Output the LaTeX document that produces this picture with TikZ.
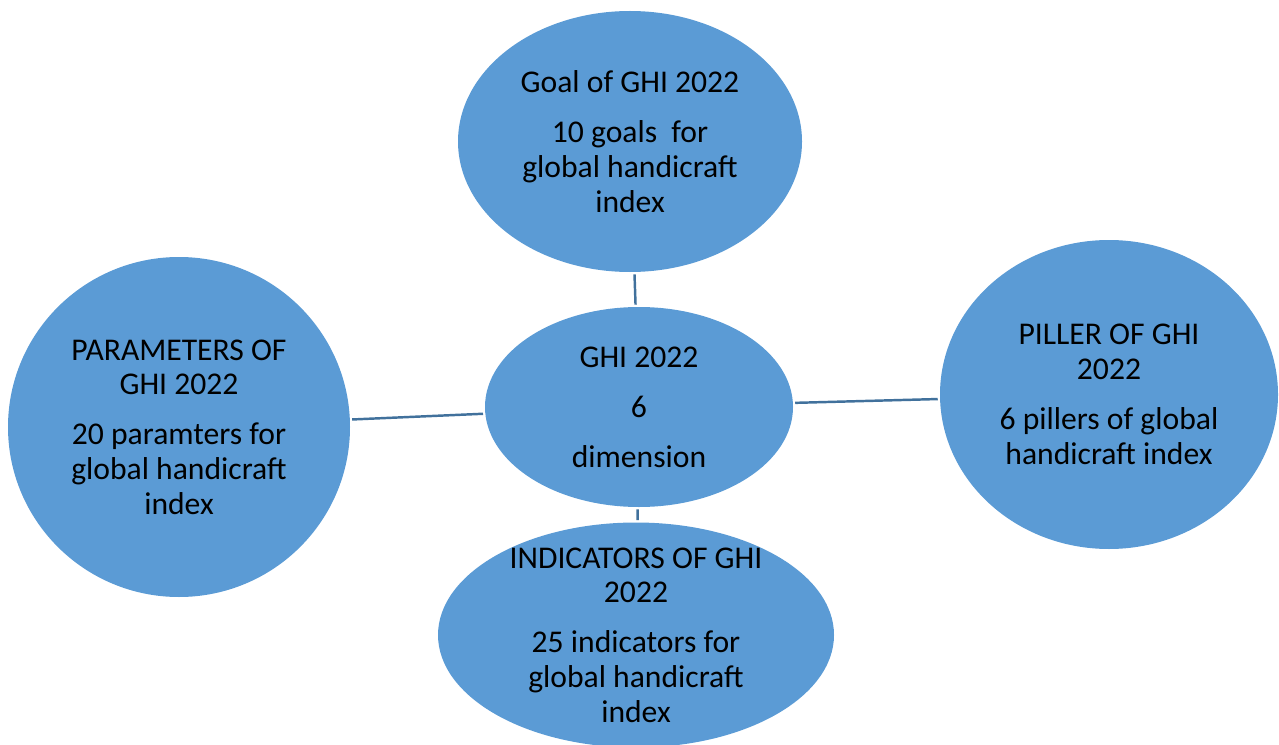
\documentclass[tikz,border=0pt]{standalone}
\usepackage{fontspec}
\setmainfont{Carlito}
\usetikzlibrary{shapes.geometric}

\definecolor{bubblefill}{HTML}{5B9BD5}
\definecolor{linkcol}{HTML}{41719C}

\begin{document}
\begin{tikzpicture}[
    bubble/.style = {ellipse, fill=bubblefill, inner sep=0pt},
    txt/.style = {align=center, inner sep=0pt, font=\fontsize{18}{19.8}\selectfont},
    link/.style = {draw=linkcol, line width=1.4pt, shorten <=0.04cm, shorten >=0.04cm}
]
    % Canvas
    \useasboundingbox (0,0) rectangle (25.58,-14.9);

    % Centre bubble
    \node[bubble, minimum width=6.16cm, minimum height=4cm,
        label={[txt]center:{GHI 2022\\[8.6pt]6\\[8.6pt]dimension}}] (ghi) at (12.78,-8.14) {};

    % Outer bubbles
    \node[bubble, minimum width=6.88cm, minimum height=5.22cm,
        label={[txt]center:{Goal of GHI 2022\\[8.6pt]10 goals~ for\\global handicraft\\index}}] (goal) at (12.6,-2.83) {};
    \node[bubble, minimum width=6.84cm, minimum height=6.8cm,
        label={[txt]center:{PARAMETERS OF\\GHI 2022\\[8.6pt]20 paramters for\\global handicraft\\index}}] (param) at (3.58,-8.54) {};
    \node[bubble, minimum width=6.76cm, minimum height=6.18cm,
        label={[txt]center:{PILLER OF GHI\\2022\\[8.6pt]6 pillers of global\\handicraft index}}] (piller) at (22.18,-7.89) {};
    \node[bubble, minimum width=7.92cm, minimum height=4.5cm,
        label={[txt]center:{INDICATORS OF GHI\\2022\\[8.6pt]25 indicators for\\global handicraft\\index}}] (indic) at (12.72,-12.7) {};

    % Spokes
    \draw[link] (goal) -- (ghi);
    \draw[link] (param) -- (ghi);
    \draw[link] (ghi) -- (piller);
    \draw[link] (ghi) -- (indic);
\end{tikzpicture}
\end{document}
